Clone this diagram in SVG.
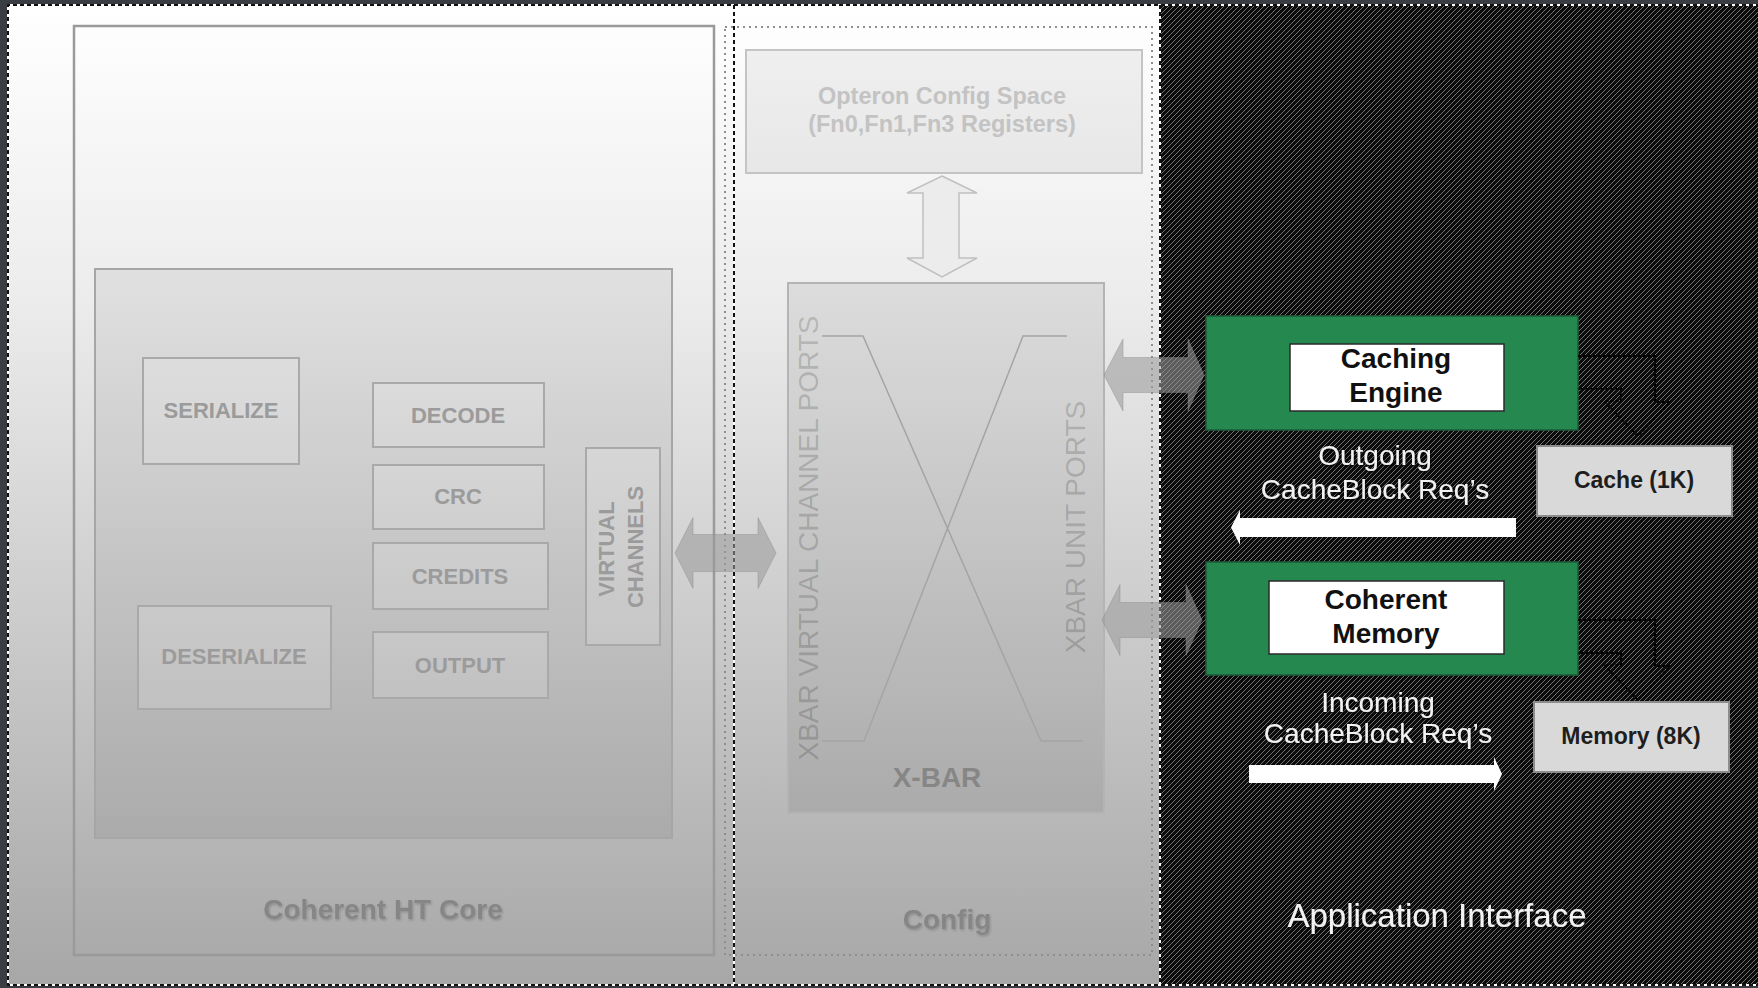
<svg xmlns="http://www.w3.org/2000/svg" width="1758" height="988" viewBox="0 0 1758 988">
  <style>
    .lbl { font-family: "Liberation Sans", Arial, sans-serif; font-weight: bold; text-anchor: middle; }
    .sub { font-size: 22px; fill: #9b9b9b; }
    .box { fill: #ffffff; fill-opacity: 0.14; stroke: #a9a9a9; stroke-width: 2; }
    .title { font-size: 28px; fill: #868686; }
    .port { font-family: "Liberation Sans", Arial, sans-serif; font-size: 28px; fill: #000000; fill-opacity: 0.18; text-anchor: middle; }
    .white { font-family: "Liberation Sans", Arial, sans-serif; fill: #f2f2f2; text-anchor: middle; }
    .req { font-size: 28px; }
    .big { font-size: 33px; }
    .black { font-size: 28px; fill: #111111; }
    .mem { font-size: 23px; fill: #1e1e1e; }
    .opt { font-size: 23.5px; fill: #c3c3c3; }
    .green { fill: #25894f; stroke: #1d5c38; stroke-width: 1.5; }
    .inner { fill: #ffffff; stroke: #2a2a2a; stroke-width: 1.5; }
    .store { fill: #d9d9d9; stroke: #8c8c8c; stroke-width: 2; }
    .fat { fill: #9a9a9a; fill-opacity: 0.57; stroke: #8a8a8a; stroke-opacity: 0.4; stroke-width: 1; }
    .elbow { fill: none; stroke: #000000; stroke-width: 2; stroke-dasharray: 3 2; }
    .frame-w { fill: none; stroke: #ffffff; stroke-width: 2; }
    .frame-b { fill: none; stroke: #111111; stroke-width: 2; stroke-dasharray: 4 3; }
  </style>
  <defs>
    <linearGradient id="panelGrad" x1="0" y1="0" x2="0" y2="1">
      <stop offset="0" stop-color="#ffffff"/>
      <stop offset="0.3" stop-color="#ececec"/>
      <stop offset="1" stop-color="#a7a7a7"/>
    </linearGradient>
    <pattern id="hatch" width="5" height="5" patternUnits="userSpaceOnUse">
      <rect width="5" height="5" fill="#0c0c0c"/>
      <path d="M-1,1 L1,-1 M0,5 L5,0 M4,6 L6,4" stroke="#727272" stroke-width="1"/>
    </pattern>
    <filter id="shadow" x="-10%" y="-30%" width="120%" height="160%">
      <feDropShadow dx="1" dy="1.5" stdDeviation="0.8" flood-color="#000000" flood-opacity="0.18"/>
    </filter>
    <filter id="shadowDark" x="-10%" y="-30%" width="120%" height="160%">
      <feDropShadow dx="1" dy="1.5" stdDeviation="0.8" flood-color="#000000" flood-opacity="0.9"/>
    </filter>
  </defs>

  <!-- outer backdrop -->
  <rect x="0" y="0" width="1758" height="988" fill="#3a3e43"/>

  <!-- three panels -->
  <g id="panel-core">
    <rect x="8" y="5" width="726" height="980" fill="url(#panelGrad)"/>
  </g>
  <g id="panel-config">
    <rect x="734" y="5" width="426" height="980" fill="url(#panelGrad)"/>
    <rect x="725" y="27" width="427" height="928" fill="none" stroke="#8e8e8e" stroke-width="2" stroke-dasharray="2 4"/>
  </g>
  <g id="panel-app">
    <rect x="1160" y="5" width="598" height="980" fill="url(#hatch)"/>
  </g>

  <!-- panel frame and dividers -->
  <g id="frame">
    <path class="frame-w" d="M1760,5 H8 V985 H1760 M734,5 V985 M1160,5 V985"/>
    <path class="frame-b" d="M1760,5 H8 V985 H1760 M734,5 V985 M1160,5 V985"/>
  </g>

  <!-- Coherent HT Core -->
  <g id="ht-core">
    <rect x="74" y="26" width="640" height="929" fill="none" stroke="#9a9a9a" stroke-width="2.5"/>
    <rect x="95" y="269" width="577" height="569" fill="#000000" fill-opacity="0.06" stroke="#a6a6a6" stroke-width="2"/>
    <text class="lbl title" x="383" y="919" filter="url(#shadow)">Coherent HT Core</text>
  </g>
  <g id="serialize">
    <rect class="box" x="143" y="358" width="156" height="106"/>
    <text class="lbl sub" x="221" y="418">SERIALIZE</text>
  </g>
  <g id="deserialize">
    <rect class="box" x="138" y="606" width="193" height="103"/>
    <text class="lbl sub" x="234" y="664">DESERIALIZE</text>
  </g>
  <g id="decode">
    <rect class="box" x="373" y="383" width="171" height="64"/>
    <text class="lbl sub" x="458" y="423">DECODE</text>
  </g>
  <g id="crc">
    <rect class="box" x="373" y="465" width="171" height="64"/>
    <text class="lbl sub" x="458" y="504">CRC</text>
  </g>
  <g id="credits">
    <rect class="box" x="373" y="543" width="175" height="66"/>
    <text class="lbl sub" x="460" y="584">CREDITS</text>
  </g>
  <g id="output">
    <rect class="box" x="373" y="632" width="175" height="66"/>
    <text class="lbl sub" x="460" y="673">OUTPUT</text>
  </g>
  <g id="virtual-channels">
    <rect class="box" x="586" y="448" width="74" height="197"/>
    <text class="lbl sub" transform="translate(614,549) rotate(-90)">VIRTUAL</text>
    <text class="lbl sub" transform="translate(643,547) rotate(-90)">CHANNELS</text>
  </g>

  <!-- Config -->
  <g id="opteron-config">
    <rect x="746" y="50" width="396" height="123" fill="#000000" fill-opacity="0.05" stroke="#c4c4c4" stroke-width="2"/>
    <text class="lbl opt" x="942" y="104">Opteron Config Space</text>
    <text class="lbl opt" x="942" y="132">(Fn0,Fn1,Fn3 Registers)</text>
  </g>
  <g id="xbar">
    <rect x="788" y="283" width="316" height="530" fill="#000000" fill-opacity="0.07" stroke="#b4b4b4" stroke-width="2"/>
    <path d="M822,336 H863 L1041,741 H1083 M1067,336 H1023 L864,741 H822" fill="none" stroke="#a4a4a4" stroke-width="1.5"/>
    <text class="port" transform="translate(818,538) rotate(-90)">XBAR VIRTUAL CHANNEL PORTS</text>
    <text class="port" transform="translate(1085,527) rotate(-90)">XBAR UNIT PORTS</text>
    <text class="lbl title" x="937" y="787">X-BAR</text>
  </g>
  <g id="config-label">
    <text class="lbl title" x="947" y="929" filter="url(#shadow)">Config</text>
  </g>

  <!-- Application Interface -->
  <g id="caching-engine">
    <rect class="green" x="1206" y="316" width="372" height="114"/>
    <rect class="inner" x="1290" y="344" width="214" height="67"/>
    <text class="lbl black" x="1396" y="368">Caching</text>
    <text class="lbl black" x="1396" y="402">Engine</text>
  </g>
  <g id="coherent-memory">
    <rect class="green" x="1206" y="562" width="372" height="113"/>
    <rect class="inner" x="1269" y="581" width="235" height="73"/>
    <text class="lbl black" x="1386" y="609">Coherent</text>
    <text class="lbl black" x="1386" y="643">Memory</text>
  </g>
  <g id="cache-1k">
    <rect class="store" x="1537" y="446" width="195" height="70"/>
    <text class="lbl mem" x="1634" y="488">Cache (1K)</text>
  </g>
  <g id="memory-8k">
    <rect class="store" x="1534" y="702" width="195" height="70"/>
    <text class="lbl mem" x="1631" y="744">Memory (8K)</text>
  </g>
  <g id="outgoing-label">
    <text class="white req" x="1375" y="465" filter="url(#shadowDark)">Outgoing</text>
    <text class="white req" x="1375" y="499" filter="url(#shadowDark)">CacheBlock Req’s</text>
  </g>
  <g id="incoming-label">
    <text class="white req" x="1378" y="712" filter="url(#shadowDark)">Incoming</text>
    <text class="white req" x="1378" y="743" filter="url(#shadowDark)">CacheBlock Req’s</text>
  </g>
  <g id="app-label">
    <text class="white big" x="1437" y="927" filter="url(#shadowDark)">Application Interface</text>
  </g>

  <!-- connectors -->
  <g id="connectors">
    <path d="M942,176 L977,193 L959,193 L959,258 L977,258 L942,277 L907,258 L923,258 L923,193 L907,193 Z" fill="#ececec" stroke="#c0c0c0" stroke-width="1.5"/>
    <path class="fat" d="M675,553 L693,517.5 L693,534.5 L758,534.5 L758,517.5 L776,553 L758,588.5 L758,571.5 L693,571.5 L693,588.5 Z"/>
    <path class="fat" d="M1104,375 L1123,339 L1123,357.5 L1188,357.5 L1188,339 L1204,375 L1188,411 L1188,392.5 L1123,392.5 L1123,411 Z"/>
    <path class="fat" d="M1102,620 L1120,584.5 L1120,602.5 L1186,602.5 L1186,584.5 L1202,620 L1186,655.5 L1186,637.5 L1120,637.5 L1120,655.5 Z"/>
    <path d="M1231,527.5 L1240,510 L1240,518 L1516,518 L1516,537 L1240,537 L1240,545 Z" fill="#ffffff"/>
    <path d="M1502,774 L1494,757 L1494,765 L1249,765 L1249,783 L1494,783 L1494,791 Z" fill="#ffffff"/>
    <path class="elbow" d="M1578,356 H1655 V402 H1670 L1638,436 L1604,401 H1621 V389 H1578"/>
    <path class="elbow" d="M1578,620 H1655 V666 H1670 L1638,700 L1604,665 H1621 V653 H1578"/>
  </g>
</svg>
